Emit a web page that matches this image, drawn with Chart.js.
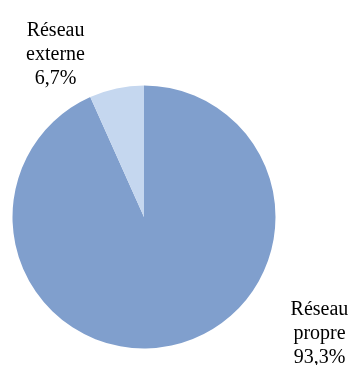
<!DOCTYPE html>
<html>
<head>
<meta charset="utf-8">
<script src="https://cdn.jsdelivr.net/npm/chart.js@4/dist/chart.umd.min.js"></script>
<style>
  html, body { margin: 0; padding: 0; background: #fff; }
  canvas { display: block; }
</style>
</head>
<body>
<canvas id="pieChart" width="351" height="365"></canvas>
<script>
// données
const labels = [['Réseau', 'propre'], ['Réseau', 'externe']];
const values = [93.3, 6.7];
const valueLabels = ['93,3%', '6,7%'];
const colors = ['#809fcd', '#c5d7ef'];

// décalage des étiquettes par rapport au bord extérieur de chaque part
const labelOffsets = [[148, -12], [-61, -34]];

// plugin maison pour dessiner les étiquettes (pas de chartjs-plugin-datalabels)
const sliceLabels = {
    id: 'sliceLabels',
    afterDatasetsDraw(chart) {
        const ctx = chart.ctx;
        const meta = chart.getDatasetMeta(0);
        ctx.save();
        ctx.font = '20px "Liberation Serif", "Times New Roman", serif';
        ctx.fillStyle = '#000';
        ctx.textAlign = 'center';
        ctx.textBaseline = 'middle';
        meta.data.forEach((arc, i) => {
            const mid = (arc.startAngle + arc.endAngle) / 2;
            const x = arc.x + Math.cos(mid) * arc.outerRadius + labelOffsets[i][0];
            const y = arc.y + Math.sin(mid) * arc.outerRadius + labelOffsets[i][1];
            const lines = labels[i].concat([valueLabels[i]]);
            const lh = 24;
            lines.forEach((line, k) => {
                ctx.fillText(line, x, y + (k - (lines.length - 1) / 2) * lh);
            });
        });
        ctx.restore();
    }
};

new Chart(document.getElementById('pieChart'), {
    type: 'pie',
    data: {
        labels: labels.map(l => l.join(' ')),
        datasets: [{
            data: values,
            backgroundColor: colors,
            borderWidth: 0
        }]
    },
    options: {
        responsive: false,
        animation: false,
        layout: {
            padding: { left: 12.5, right: 75.5, top: 85.5, bottom: 16.5 }
        },
        plugins: {
            legend: { display: false },
            tooltip: { enabled: false }
        }
    },
    plugins: [sliceLabels]
});
</script>
</body>
</html>
